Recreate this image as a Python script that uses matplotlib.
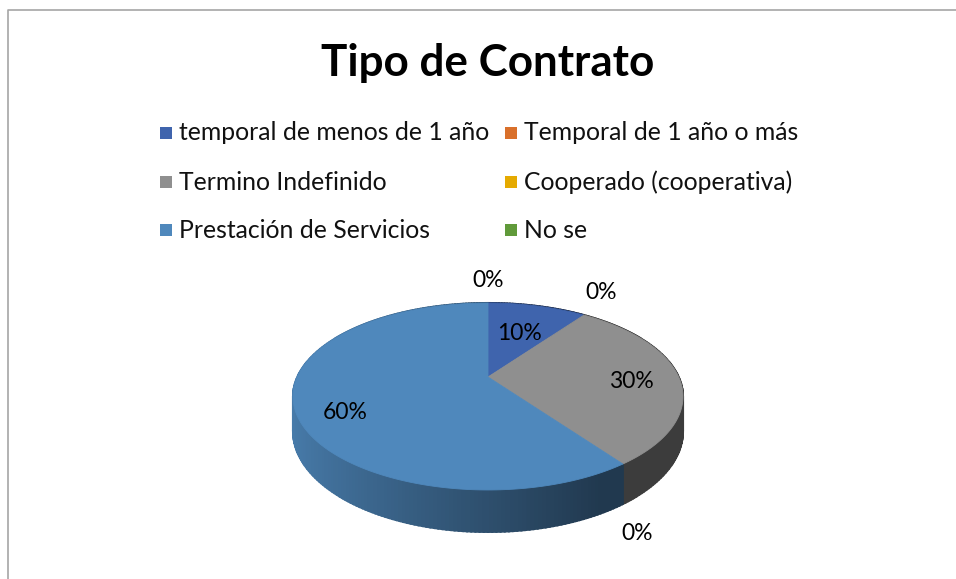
import numpy as np
import matplotlib
matplotlib.use("Agg")
import matplotlib.pyplot as plt
from matplotlib.patches import Polygon, Rectangle
from matplotlib.lines import Line2D

# ---------------- data ----------------
title = "Tipo de Contrato"
categories = ["temporal de menos de 1 año", "Temporal de 1 año o más",
              "Termino Indefinido", "Cooperado (cooperativa)",
              "Prestación de Servicios", "No se"]
values = [10, 0, 30, 0, 60, 0]
value_labels = ["10%", "0%", "30%", "0%", "60%", "0%"]

# ---------------- style ----------------
colors = ["#3F64AD", "#D9702B", "#8F8F8F", "#E5AA00", "#4F88BC", "#609A3A"]
FONT = "Lato"
label_r = [0.6, 1.22, 0.75, 1.086, 0.75, 1.3]
label_dy = [2, -11, 4, 60, 14, -5]

W, H = 956, 579
fig = plt.figure(figsize=(W / 100, H / 100), dpi=100)
ax = fig.add_axes([0, 0, 1, 1])
ax.set_xlim(0, W)
ax.set_ylim(H, 0)
ax.axis("off")

# chart border (top and left visible)
ax.add_line(Line2D([8, 8, W], [H, 10, 10], color="#A6A6A6", lw=1.2))

# title
ax.text(488, 63, title, ha="center", va="center", fontsize=31.7,
        fontweight="bold", family=FONT, color="black")

# legend (two columns, row-major)
col_x = [160, 505]
row_y = [133, 182, 230]
for i, (cat, col) in enumerate(zip(categories, colors)):
    cx = col_x[i % 2]
    cy = row_y[i // 2]
    ax.add_patch(Rectangle((cx, cy - 6), 12, 12, facecolor=col, edgecolor="none"))
    ax.text(cx + 19, cy, cat, ha="left", va="center", fontsize=17.8,
            family=FONT, color="#111111")

# 3D pie geometry (perspective projection of a disc)
APEX = (488, 377)
A, B, C = 190.7, 89.4, 0.2086
DEPTH = 33.2


def proj(r, theta_deg):
    t = np.radians(theta_deg)
    x = r * np.cos(t)
    y = -r * np.sin(t)  # positive = toward viewer
    w = 1 - C * y
    return APEX[0] + A * x / w, APEX[1] + B * y / w, w


def shade(col, f):
    rgb = np.array(matplotlib.colors.to_rgb(col))
    return tuple(np.clip(rgb * f, 0, 1))


total = float(sum(values))
fracs = [v / total for v in values]
starts = []
ang = 90.0
for f in fracs:
    starts.append((ang, ang - 360 * f))
    ang -= 360 * f

# side walls (strips), drawn far to near
strips = []
for (a1, a2), col, f in zip(starts, colors, fracs):
    if f <= 0:
        continue
    n = max(int(abs(a1 - a2) / 1.0), 2)
    th = np.linspace(a1, a2, n + 1)
    for k in range(n):
        t0, t1 = th[k], th[k + 1]
        x0, y0, w0 = proj(1, t0)
        x1, y1, w1 = proj(1, t1)
        tm = 0.5 * (t0 + t1)
        near = -np.sin(np.radians(tm))
        c = np.cos(np.radians(tm))
        fac = max(0.42, 0.58 - 0.34 * c)
        poly = [(x0, y0), (x1, y1), (x1, y1 + DEPTH / w1), (x0, y0 + DEPTH / w0)]
        strips.append((near, poly, shade(col, fac)))
strips.sort(key=lambda s: s[0])
for _, poly, fc in strips:
    ax.add_patch(Polygon(poly, closed=True, facecolor=fc, edgecolor=fc,
                         lw=1.5, antialiased=True, joinstyle="miter"))

# top surfaces
for (a1, a2), col, f in zip(starts, colors, fracs):
    if f <= 0:
        continue
    th = np.linspace(a1, a2, max(int(abs(a1 - a2)), 2) + 1)
    pts = [APEX] + [proj(1, t)[:2] for t in th]
    ax.add_patch(Polygon(pts, closed=True, facecolor=col, edgecolor=col,
                         lw=0.6, antialiased=True))

# data labels
for (a1, a2), lab, r, dy in zip(starts, value_labels, label_r, label_dy):
    mid = 0.5 * (a1 + a2)
    x, y, _ = proj(r, mid)
    ax.text(x, y + dy, lab, ha="center", va="center", fontsize=16.5,
            family=FONT, color="black")

fig.savefig("out.png", dpi=100)
